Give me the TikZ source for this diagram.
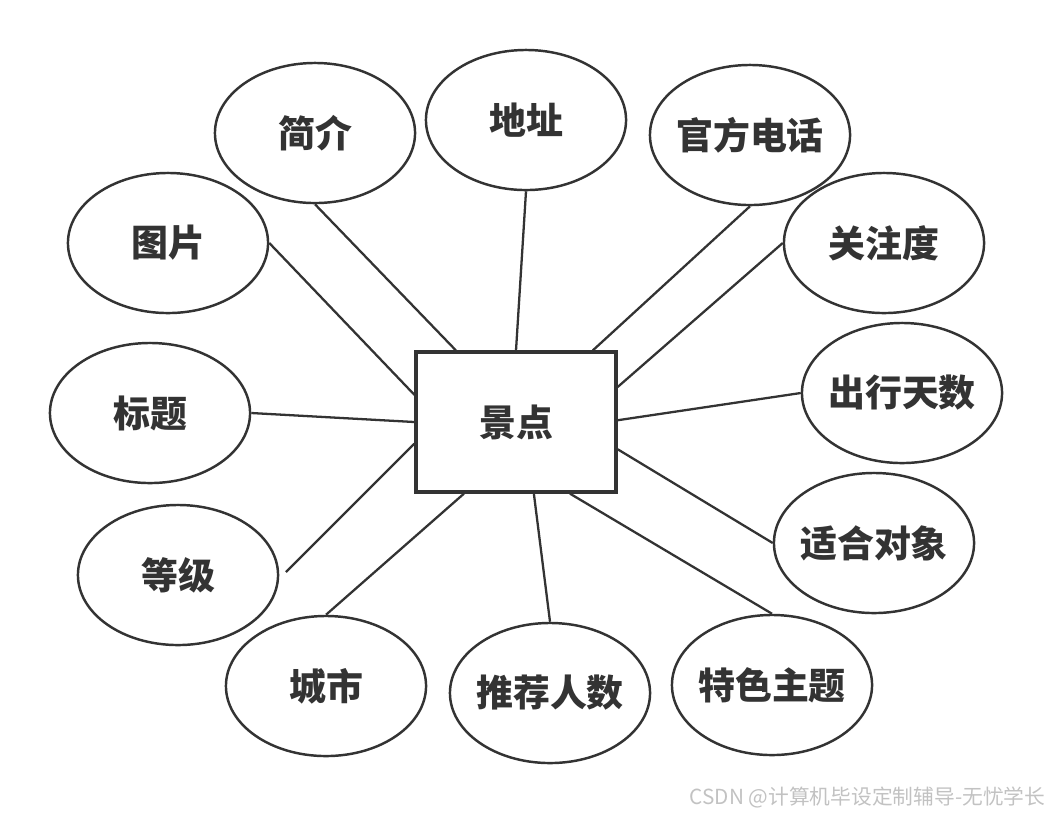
\documentclass[tikz,border=0pt]{standalone}
\usepackage{fontspec}
\setmainfont{Noto Sans CJK SC}
\usepackage{xcolor}
\definecolor{erdark}{HTML}{333333}
\definecolor{ermark}{HTML}{C2C2C2}
\usepackage{tikz}
\usetikzlibrary{shapes.geometric,positioning}

\begin{document}
\begin{tikzpicture}[
  x=0.01cm,y=-0.01cm,
  font=\fontsize{10.5}{12}\selectfont\bfseries,
  attr/.style={ellipse,draw=erdark,fill=white,text=erdark,
    minimum width=2cm,minimum height=1.4cm,inner xsep=-0.1cm,inner ysep=0pt,
    line width=0.7pt},
  ent/.style={rectangle,draw=erdark,fill=white,text=erdark,
    minimum width=2cm,minimum height=1.4cm,line width=0.9pt},
  link/.style={erdark,line width=0.65pt}
]
  \useasboundingbox (0,0) rectangle (1052,814);
  % Entity
  \node[ent] (jd) at (516,422) {景点};
  % Attributes (clockwise from top left)
  \node[attr] (jianjie)  at (315,133) {简介};
  \node[attr] (dizhi)    at (526,120) {地址};
  \node[attr] (dianhua)  at (750,135) {官方电话};
  \node[attr] (guanzhu)  at (884,243) {关注度};
  \node[attr] (tianshu)  at (902,393) {出行天数};
  \node[attr] (duixiang) at (874,543) {适合对象};
  \node[attr] (zhuti)    at (772,685) {特色主题};
  \node[attr] (renshu)   at (550,693) {推荐人数};
  \node[attr] (chengshi) at (326,686) {城市};
  \node[attr] (dengji)   at (178,575) {等级};
  \node[attr] (biaoti)   at (150,413) {标题};
  \node[attr] (tupian)   at (168,243) {图片};
  \coordinate (dengjiend) at (286,572);
  % Links
  \draw[link] (jd.130) -- (jianjie.south);
  \draw[link] (jd.90)  -- (dizhi.south);
  \draw[link] (jd.43)  -- (dianhua.south);
  \draw[link] (jd.19)  -- (guanzhu.west);
  \draw[link] (jd.1)   -- (tianshu.west);
  \draw[link] (jd.-15) -- (duixiang.west);
  \draw[link] (jd.-53) -- (zhuti.north);
  \draw[link] (jd.-76) -- (renshu.north);
  \draw[link] (jd.234) -- (chengshi.north);
  \draw[link] (jd.192) -- (dengjiend);
  \draw[link] (jd.180) -- (biaoti.east);
  \draw[link] (jd.165) -- (tupian.east);
  % Watermark
  \node[text=ermark,font=\fontsize{5.9}{7}\selectfont,anchor=east,inner sep=0pt]
    (wmtext) at (1046,797) {CSDN @计算机毕设定制辅导-无忧学长};
\end{tikzpicture}
\end{document}
